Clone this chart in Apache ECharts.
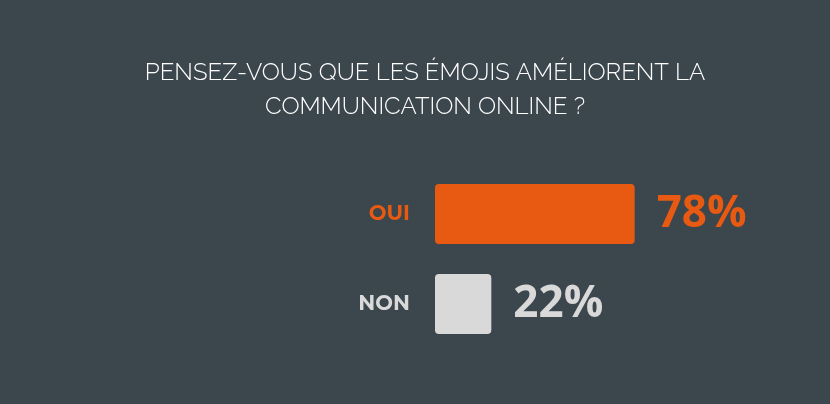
<!DOCTYPE html>
<html><head><meta charset="utf-8">
<script src="https://cdn.jsdelivr.net/npm/echarts@6/dist/echarts.min.js"></script>
<style>html,body{margin:0;padding:0;background:#3c464d}#c{width:830px;height:404px}</style>
</head><body><div id="c"></div>
<script>
const titleText = "PENSEZ-VOUS QUE LES ÉMOJIS AMÉLIORENT LA\nCOMMUNICATION ONLINE ?";
const categories = ["OUI", "NON"];
const values = [78, 22];
const colors = ["#e85a12", "#d9d9d9"];

const chart = echarts.init(document.getElementById('c'), null, {renderer: 'canvas'});
chart.setOption({
  backgroundColor: '#3c464d',
  animation: false,
  title: {
    text: titleText,
    left: 420, top: 51, textAlign: 'center',
    textStyle: {color: '#ffffff', fontFamily: 'Raleway, Lato', fontWeight: 300, fontSize: 24, lineHeight: 34}
  },
  grid: {left: 435, width: 256, top: 169, height: 180},
  xAxis: {type: 'value', min: 0, max: 100, show: false},
  yAxis: {
    type: 'category', data: categories, inverse: true,
    axisLine: {show: false}, axisTick: {show: false}, splitLine: {show: false},
    axisLabel: {
      margin: 25, fontFamily: 'Montserrat, "Open Sans", sans-serif', fontWeight: 'bold', fontSize: 21,
      color: function (v, i) { return colors[i]; }
    }
  },
  series: [{
    type: 'bar', barWidth: 60,
    data: values.map((v, i) => ({value: v, itemStyle: {color: colors[i], borderRadius: 4},
      label: {color: colors[i]}})),
    label: {
      show: true, position: 'right', distance: 22,
      formatter: p => p.value + '%',
      fontFamily: '"Open Sans", sans-serif', fontWeight: 'bold', fontSize: 44
    }
  }]
});
</script></body></html>
